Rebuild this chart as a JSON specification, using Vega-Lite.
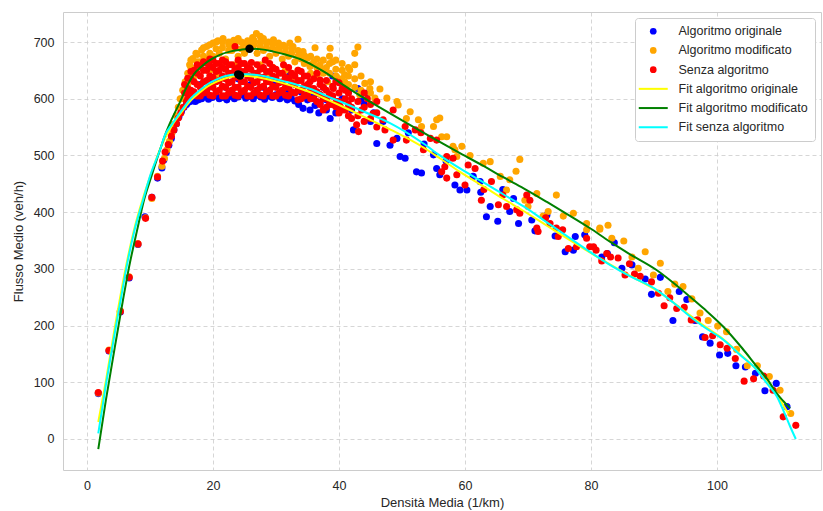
{
  "$schema": "https://vega.github.io/schema/vega-lite/v6.json",
  "width": 758,
  "height": 458,
  "autosize": "none",
  "padding": {"left": 63, "top": 12, "right": 2, "bottom": 41},
  "background": "white",
  "config": {
    "view": {"stroke": "#cccccc", "strokeWidth": 1},
    "axis": {
      "domain": false, "ticks": false, "grid": true,
      "gridColor": "#cccccc", "gridDash": [4, 3], "gridWidth": 0.8,
      "labelFont": "Liberation Sans", "labelFontSize": 12.5, "labelColor": "#262626",
      "titleFont": "Liberation Sans", "titleFontSize": 13, "titleFontWeight": "normal", "titleColor": "#262626"
    },
    "legend": {
      "orient": "top-right", "offset": 6, "padding": 7,
      "strokeColor": "#cccccc", "fillColor": "white", "cornerRadius": 3,
      "labelFont": "Liberation Sans", "labelFontSize": 12.5, "labelColor": "#262626",
      "symbolSize": 45, "symbolStrokeWidth": 0, "symbolOffset": 5, "labelOffset": 19, "rowPadding": 6.2
    }
  },
  "datasets": {
    "orig": [
      {"k":1.8,"q":80},{"k":3.5,"q":155},{"k":5.3,"q":224},{"k":6.7,"q":284},{"k":8.1,"q":343},{"k":9.2,"q":392},{"k":10.3,"q":426},{"k":11.2,"q":460},{"k":11.9,"q":478},{"k":12.2,"q":492},{"k":12.6,"q":505},{"k":13.0,"q":518},{"k":13.4,"q":530},
      {"k":13.8,"q":545},{"k":14.2,"q":556},{"k":14.6,"q":568},{"k":15.0,"q":578},{"k":15.4,"q":585},{"k":15.8,"q":590},{"k":16.2,"q":594},{"k":16.7,"q":596},{"k":17.2,"q":595},{"k":17.7,"q":598},{"k":18.2,"q":600},{"k":18.8,"q":603},{"k":19.3,"q":599},{"k":19.9,"q":602},{"k":20.5,"q":605},{"k":21.0,"q":600},{"k":21.6,"q":602},{"k":22.2,"q":598},{"k":22.8,"q":604},{"k":23.4,"q":600},{"k":24.0,"q":603},{"k":24.6,"q":607},{"k":25.2,"q":601},{"k":25.8,"q":604},{"k":26.4,"q":600},{"k":27.0,"q":606},{"k":27.6,"q":603},{"k":28.2,"q":599},{"k":28.8,"q":605},{"k":29.4,"q":602},{"k":30.0,"q":607},{"k":30.6,"q":600},{"k":31.2,"q":603},{"k":31.8,"q":598},{"k":32.4,"q":601},{"k":33.0,"q":596},{"k":33.6,"q":590},{"k":34.3,"q":583},{"k":35.4,"q":580},{"k":36.2,"q":588},{"k":37.0,"q":592},{"k":38.6,"q":565},{"k":39.5,"q":575},{"k":40.5,"q":600},{"k":41.5,"q":612},{"k":42.3,"q":545},
      {"k":36.8,"q":575},{"k":38,"q":580},{"k":40,"q":590},{"k":42,"q":580},{"k":43.5,"q":600},{"k":45,"q":560},
      {"k":16,"q":610},{"k":18,"q":625},{"k":20,"q":630},{"k":22,"q":620},{"k":24,"q":635},{"k":26,"q":625},{"k":28,"q":620},{"k":30,"q":628},{"k":32,"q":615},{"k":34,"q":612},{"k":36,"q":605},{"k":38,"q":598},{"k":19,"q":615},{"k":23,"q":612},{"k":27,"q":615},{"k":31,"q":610},{"k":35,"q":598},{"k":41,"q":625},{"k":43,"q":618},{"k":44.5,"q":610},{"k":39,"q":640},{"k":37.5,"q":620},{"k":32.2,"q":645},
      {"k":44,"q":590},{"k":45.5,"q":575},{"k":46.0,"q":521},{"k":47,"q":560},{"k":48.1,"q":518},{"k":49.2,"q":530},{"k":49.7,"q":498},{"k":50.5,"q":495},{"k":51,"q":540},{"k":52.3,"q":471},{"k":53.1,"q":469},{"k":53.5,"q":520},{"k":55.0,"q":501},{"k":55.5,"q":477},{"k":56,"q":466},{"k":57,"q":490},{"k":58.4,"q":448},{"k":59.2,"q":439},{"k":60.3,"q":439},{"k":61.3,"q":463},{"k":62.4,"q":454},{"k":62.5,"q":435},{"k":63.4,"q":392},{"k":64,"q":410},{"k":65.2,"q":384},{"k":66,"q":440},{"k":67.1,"q":401},{"k":67.7,"q":424},{"k":68.5,"q":380},{"k":70.6,"q":386},{"k":71.1,"q":367},{"k":73,"q":395},{"k":74.3,"q":358},{"k":75.9,"q":330},{"k":77.2,"q":333},{"k":77.5,"q":357},{"k":79,"q":360},{"k":81.7,"q":321},{"k":82.6,"q":327},{"k":83.7,"q":346},{"k":84.9,"q":301},{"k":86.5,"q":307},{"k":88.6,"q":282},{"k":89.6,"q":255},{"k":91,"q":285},{"k":93,"q":209},{"k":94,"q":260},{"k":95.2,"q":246},{"k":96.5,"q":209},{"k":97.7,"q":180},{"k":98.9,"q":169},{"k":100.4,"q":148},{"k":101.7,"q":151},{"k":103,"q":129},{"k":104.5,"q":127},{"k":106.1,"q":116},{"k":107.6,"q":85},{"k":109.4,"q":98},{"k":111.1,"q":57}
    ],
    "mod": [
      {"k":1.8,"q":81},{"k":3.5,"q":157},{"k":5.3,"q":226},{"k":6.7,"q":286},{"k":8.1,"q":344},{"k":9.3,"q":390},{"k":10.3,"q":424},{"k":11.2,"q":463},{"k":11.9,"q":481},{"k":12.3,"q":495},{"k":12.7,"q":510},{"k":13.1,"q":525},{"k":13.5,"q":540},
      {"k":13.8,"q":555},{"k":14.2,"q":570},{"k":14.5,"q":585},{"k":14.8,"q":600},{"k":15.2,"q":615},{"k":15.6,"q":630},{"k":16.0,"q":645},{"k":16.3,"q":660},{"k":16.8,"q":671},{"k":17.3,"q":680},{"k":18.2,"q":686},{"k":19.0,"q":692},{"k":20.0,"q":698},{"k":20.8,"q":702},{"k":21.6,"q":706},{"k":22.5,"q":700},{"k":23.3,"q":703},{"k":24.0,"q":706},{"k":24.8,"q":698},{"k":25.5,"q":702},{"k":26.3,"q":708},{"k":26.9,"q":715},{"k":27.5,"q":710},{"k":28.0,"q":706},{"k":28.8,"q":700},{"k":29.6,"q":704},{"k":30.4,"q":698},{"k":31.2,"q":694},{"k":32.2,"q":698},{"k":32.7,"q":692},{"k":33.5,"q":705},{"k":34.3,"q":683},{"k":35.4,"q":657},{"k":36.2,"q":690},{"k":37.5,"q":645},{"k":38.6,"q":689},{"k":39.6,"q":639},{"k":40.9,"q":642},{"k":41.7,"q":651},{"k":42.5,"q":680},{"k":43.0,"q":691},{"k":40.9,"q":630},
      {"k":15,"q":600},{"k":16,"q":625},{"k":17,"q":640},{"k":17.5,"q":655},{"k":18,"q":665},{"k":19,"q":670},{"k":20,"q":675},{"k":21,"q":680},{"k":22,"q":670},{"k":23,"q":685},{"k":24,"q":675},{"k":25,"q":680},{"k":26,"q":690},{"k":27,"q":680},{"k":28,"q":685},{"k":29,"q":675},{"k":30,"q":680},{"k":31,"q":670},{"k":32,"q":675},{"k":33,"q":665},{"k":34,"q":670},{"k":35,"q":672},{"k":36,"q":665},{"k":37,"q":660},{"k":38,"q":655},{"k":39,"q":665},{"k":19.5,"q":650},{"k":21.5,"q":655},{"k":23.5,"q":660},{"k":25.5,"q":655},{"k":27.5,"q":660},{"k":29.5,"q":655},{"k":31.5,"q":650},{"k":33.5,"q":650},{"k":35.5,"q":645},{"k":36.5,"q":640},{"k":38.2,"q":630},{"k":20.5,"q":640},{"k":24.5,"q":645},{"k":28.5,"q":640},{"k":32.5,"q":635},
      {"k":16.5,"q":655},{"k":16.5,"q":668},{"k":17.5,"q":665},{"k":17.5,"q":678},{"k":18.5,"q":675},{"k":18.5,"q":690},{"k":19.5,"q":680},{"k":19.5,"q":695},{"k":20.5,"q":688},{"k":20.5,"q":700},{"k":21.5,"q":690},{"k":21.5,"q":700},{"k":22.5,"q":685},{"k":22.5,"q":695},{"k":23.5,"q":690},{"k":23.5,"q":698},{"k":24.5,"q":688},{"k":24.5,"q":700},{"k":25.5,"q":690},{"k":25.5,"q":697},{"k":26.5,"q":695},{"k":26.5,"q":703},{"k":27.5,"q":692},{"k":27.5,"q":700},{"k":28.5,"q":690},{"k":28.5,"q":698},{"k":29.5,"q":688},{"k":29.5,"q":696},{"k":30.5,"q":685},{"k":30.5,"q":692},{"k":31.5,"q":682},{"k":31.5,"q":690},{"k":32.5,"q":680},{"k":32.5,"q":688},{"k":33.5,"q":675},{"k":33.5,"q":685},{"k":34.5,"q":662},{"k":34.5,"q":676},{"k":35.5,"q":660},{"k":35.5,"q":675},{"k":36.5,"q":655},{"k":36.5,"q":670},{"k":37.5,"q":650},{"k":37.5,"q":668},{"k":38.5,"q":645},{"k":38.5,"q":662},{"k":38.5,"q":675},{"k":39.5,"q":640},{"k":39.5,"q":652},{"k":39.5,"q":668},{"k":40.5,"q":635},{"k":40.5,"q":650},{"k":40.5,"q":662},{"k":41.5,"q":625},{"k":41.5,"q":640},{"k":41.5,"q":655},{"k":42.5,"q":620},{"k":42.5,"q":635},{"k":42.5,"q":660},{"k":43.5,"q":615},{"k":43.5,"q":640},{"k":45,"q":610},{"k":45,"q":630},
      {"k":43.3,"q":607},{"k":44.1,"q":627},{"k":44.9,"q":618},{"k":45.7,"q":601},{"k":46.5,"q":617},{"k":47.6,"q":601},{"k":49.2,"q":595},{"k":49.4,"q":589},{"k":50.7,"q":565},{"k":51.3,"q":577},{"k":52.6,"q":563},{"k":53.1,"q":551},{"k":55.0,"q":551},{"k":55.5,"q":563},{"k":56.0,"q":566},{"k":56.3,"q":533},{"k":57.1,"q":533},{"k":58.1,"q":516},{"k":58.4,"q":510},{"k":58.7,"q":498},{"k":59.5,"q":516},{"k":60.8,"q":500},{"k":62.9,"q":486},{"k":64.0,"q":489},{"k":65.6,"q":463},{"k":66.6,"q":439},{"k":67.1,"q":457},{"k":68.1,"q":472},{"k":68.7,"q":493},{"k":69.5,"q":421},{"k":70.0,"q":410},{"k":71.4,"q":433},{"k":72.4,"q":393},{"k":73.2,"q":401},{"k":74.5,"q":430},{"k":75.6,"q":393},{"k":77.2,"q":398},{"k":79.3,"q":380},{"k":79.3,"q":369},{"k":81.4,"q":372},{"k":82.7,"q":377},{"k":81.4,"q":370},{"k":83.3,"q":354},{"k":85.2,"q":349},{"k":86.5,"q":321},{"k":87.5,"q":301},{"k":88.6,"q":330},{"k":89.9,"q":289},{"k":91.0,"q":310},{"k":92.2,"q":260},{"k":93.3,"q":273},{"k":94.6,"q":269},{"k":96.0,"q":247},{"k":97.3,"q":222},{"k":98.6,"q":209},{"k":100.1,"q":199},{"k":101.5,"q":189},{"k":103.1,"q":158},{"k":104.8,"q":129},{"k":106.4,"q":129},{"k":108.3,"q":110},{"k":110.0,"q":86},{"k":111.7,"q":45}
    ],
    "senza": [
      {"k":1.8,"q":82},{"k":3.5,"q":156},{"k":5.3,"q":225},{"k":6.7,"q":285},{"k":8.1,"q":344},{"k":9.3,"q":389},{"k":10.3,"q":426},{"k":11.2,"q":462},{"k":12.0,"q":490},{"k":12.4,"q":506},{"k":12.9,"q":519},{"k":13.4,"q":534},
      {"k":13.8,"q":545},{"k":14.2,"q":556},{"k":14.5,"q":566},{"k":14.9,"q":575},{"k":15.3,"q":585},{"k":15.8,"q":595},{"k":16.3,"q":605},
      {"k":15.5,"q":610},{"k":15.5,"q":625},
      {"k":16.5,"q":615},{"k":16.5,"q":635},{"k":16.5,"q":648},
      {"k":17.5,"q":605},{"k":17.5,"q":625},{"k":17.5,"q":645},{"k":17.5,"q":660},
      {"k":18.5,"q":610},{"k":18.5,"q":630},{"k":18.5,"q":650},{"k":18.5,"q":665},
      {"k":19.5,"q":606},{"k":19.5,"q":622},{"k":19.5,"q":640},{"k":19.5,"q":658},{"k":19.5,"q":670},
      {"k":20.5,"q":612},{"k":20.5,"q":630},{"k":20.5,"q":648},{"k":20.5,"q":662},
      {"k":21.5,"q":605},{"k":21.5,"q":622},{"k":21.5,"q":640},{"k":21.5,"q":655},{"k":21.5,"q":668},
      {"k":22.5,"q":610},{"k":22.5,"q":628},{"k":22.5,"q":645},{"k":22.5,"q":660},
      {"k":23.5,"q":606},{"k":23.5,"q":620},{"k":23.5,"q":638},{"k":23.5,"q":652},{"k":23.5,"q":692},
      {"k":24.5,"q":612},{"k":24.5,"q":630},{"k":24.5,"q":648},{"k":24.5,"q":662},
      {"k":25.5,"q":605},{"k":25.5,"q":622},{"k":25.5,"q":640},{"k":25.5,"q":655},
      {"k":26.5,"q":610},{"k":26.5,"q":628},{"k":26.5,"q":645},{"k":26.1,"q":664},
      {"k":27.5,"q":606},{"k":27.5,"q":620},{"k":27.5,"q":638},{"k":27.5,"q":652},
      {"k":28.5,"q":612},{"k":28.5,"q":630},{"k":28.5,"q":648},{"k":28.3,"q":668},
      {"k":29.5,"q":605},{"k":29.5,"q":622},{"k":29.5,"q":640},{"k":29.5,"q":655},
      {"k":30.5,"q":610},{"k":30.5,"q":628},{"k":30.5,"q":645},
      {"k":31.5,"q":606},{"k":31.5,"q":620},{"k":31.5,"q":638},{"k":31.2,"q":660},
      {"k":32.5,"q":612},{"k":32.5,"q":628},{"k":32.5,"q":645},
      {"k":33.5,"q":598},{"k":33.5,"q":615},{"k":33.5,"q":632},{"k":33.5,"q":650},
      {"k":34.5,"q":605},{"k":34.5,"q":622},{"k":34.5,"q":640},
      {"k":35.5,"q":600},{"k":35.4,"q":630},{"k":35.5,"q":618},
      {"k":36.5,"q":595},{"k":36.5,"q":612},{"k":37.0,"q":633},{"k":36.5,"q":645},
      {"k":37.5,"q":580},{"k":37.5,"q":600},{"k":37.5,"q":620},
      {"k":38.5,"q":590},{"k":38.5,"q":608},{"k":39.1,"q":618},
      {"k":39.5,"q":586},{"k":39.6,"q":595},{"k":39.5,"q":630},
      {"k":40.5,"q":580},{"k":40.2,"q":586},{"k":40.5,"q":618},
      {"k":41.5,"q":570},{"k":41.5,"q":590},{"k":41.5,"q":610},
      {"k":16,"q":600},{"k":16,"q":618},{"k":16,"q":636},{"k":17,"q":612},{"k":17,"q":630},{"k":17,"q":650},{"k":18,"q":605},{"k":18,"q":620},{"k":18,"q":640},{"k":18,"q":657},{"k":19,"q":615},{"k":19,"q":632},{"k":19,"q":650},{"k":19,"q":662},{"k":20,"q":605},{"k":20,"q":620},{"k":20,"q":638},{"k":20,"q":655},{"k":20,"q":668},{"k":21,"q":615},{"k":21,"q":632},{"k":21,"q":650},{"k":21,"q":662},{"k":22,"q":605},{"k":22,"q":620},{"k":22,"q":635},{"k":22,"q":652},{"k":22,"q":665},{"k":23,"q":615},{"k":23,"q":630},{"k":23,"q":645},{"k":23,"q":660},{"k":24,"q":605},{"k":24,"q":620},{"k":24,"q":638},{"k":24,"q":655},{"k":24,"q":668},{"k":25,"q":615},{"k":25,"q":630},{"k":25,"q":648},{"k":25,"q":662},{"k":26,"q":605},{"k":26,"q":620},{"k":26,"q":636},{"k":26,"q":652},{"k":27,"q":615},{"k":27,"q":630},{"k":27,"q":645},{"k":27,"q":660},{"k":28,"q":605},{"k":28,"q":622},{"k":28,"q":638},{"k":28,"q":655},{"k":29,"q":615},{"k":29,"q":630},{"k":29,"q":648},{"k":29,"q":662},{"k":30,"q":605},{"k":30,"q":620},{"k":30,"q":636},{"k":30,"q":652},{"k":31,"q":615},{"k":31,"q":630},{"k":31,"q":645},{"k":32,"q":605},{"k":32,"q":620},{"k":32,"q":636},{"k":32,"q":655},{"k":33,"q":610},{"k":33,"q":625},{"k":33,"q":640},{"k":34,"q":600},{"k":34,"q":615},{"k":34,"q":632},{"k":34,"q":648},{"k":35,"q":608},{"k":35,"q":625},{"k":35,"q":640},{"k":36,"q":600},{"k":36,"q":618},{"k":36,"q":635},{"k":37,"q":590},{"k":37,"q":608},{"k":37,"q":625},{"k":38,"q":585},{"k":38,"q":600},{"k":38,"q":615},{"k":38,"q":632},{"k":39,"q":590},{"k":39,"q":605},{"k":39,"q":622},{"k":40,"q":575},{"k":40,"q":595},{"k":40,"q":610},{"k":40,"q":628},{"k":41,"q":580},{"k":41,"q":600},{"k":41,"q":615},{"k":42,"q":565},{"k":42,"q":585},{"k":42,"q":600},{"k":43,"q":570},{"k":43,"q":595},{"k":44,"q":560},{"k":44,"q":585},{"k":44,"q":610},{"k":45,"q":565},{"k":45,"q":590},{"k":46,"q":550},{"k":46,"q":575},
      {"k":42.8,"q":554},{"k":43.1,"q":542},{"k":43.6,"q":580},{"k":44.5,"q":600},{"k":45.4,"q":574},{"k":46,"q":595},{"k":47.0,"q":563},{"k":47.3,"q":545},{"k":48.6,"q":580},{"k":48.6,"q":527},{"k":50.5,"q":551},{"k":50.7,"q":527},{"k":52.1,"q":545},{"k":53,"q":540},{"k":53.4,"q":510},{"k":54.5,"q":530},{"k":55.5,"q":527},{"k":56.3,"q":471},{"k":56.8,"q":480},{"k":57.1,"q":460},{"k":57.1,"q":498},{"k":58.1,"q":495},{"k":58.7,"q":466},{"k":60.0,"q":448},{"k":60.5,"q":483},{"k":61.6,"q":477},{"k":62.6,"q":421},{"k":63,"q":440},{"k":64.2,"q":454},{"k":65.3,"q":413},{"k":66,"q":430},{"k":66.6,"q":410},{"k":68.2,"q":404},{"k":68.7,"q":398},{"k":69.8,"q":430},{"k":70.3,"q":421},{"k":71.4,"q":372},{"k":71.6,"q":366},{"k":72.8,"q":390},{"k":73.5,"q":380},{"k":74.5,"q":372},{"k":74.8,"q":357},{"k":75.5,"q":369},{"k":76.4,"q":336},{"k":77.7,"q":339},{"k":79.3,"q":354},{"k":79.8,"q":339},{"k":80.4,"q":339},{"k":80.8,"q":333},{"k":81.7,"q":314},{"k":82.5,"q":327},{"k":83.1,"q":321},{"k":84.3,"q":319},{"k":85.4,"q":289},{"k":86.1,"q":309},{"k":86.9,"q":291},{"k":87.8,"q":287},{"k":89.6,"q":277},{"k":90.7,"q":257},{"k":91.6,"q":235},{"k":92.5,"q":249},{"k":93.6,"q":230},{"k":94.8,"q":232},{"k":95.9,"q":210},{"k":96.9,"q":210},{"k":98.1,"q":179},{"k":99.3,"q":182},{"k":100.5,"q":166},{"k":101.6,"q":160},{"k":102.9,"q":142},{"k":104.3,"q":102},{"k":105.8,"q":106},{"k":107.4,"q":111},{"k":108.9,"q":86},{"k":110.5,"q":39},{"k":112.5,"q":24}
    ],
    "fitOrig": [
      {"k":1.8,"q":30},{"k":3,"q":102},{"k":4.4,"q":195},{"k":6.3,"q":310},{"k":7.5,"q":370},{"k":8.9,"q":425},{"k":10.2,"q":468},{"k":11.6,"q":511},{"k":13.5,"q":553},{"k":15.2,"q":579},{"k":16.5,"q":597},{"k":17.9,"q":611},{"k":19.2,"q":622},{"k":20.6,"q":630},{"k":22,"q":636},{"k":24,"q":640},{"k":25.5,"q":640},{"k":27.5,"q":637},{"k":29.5,"q":632},{"k":31.2,"q":627},{"k":33.8,"q":618},{"k":36,"q":609},{"k":38,"q":599},{"k":40.2,"q":588},{"k":44,"q":568},{"k":48.1,"q":546},{"k":53.4,"q":514},{"k":56,"q":495},{"k":59.2,"q":471},{"k":63,"q":445},{"k":66,"q":424},{"k":69.3,"q":402},{"k":73,"q":376},{"k":76,"q":355},{"k":79.8,"q":329},{"k":83,"q":308},{"k":86,"q":289},{"k":90.4,"q":262},{"k":95.7,"q":218},{"k":98,"q":199},{"k":101,"q":176},{"k":104,"q":146},{"k":106.3,"q":122},{"k":108,"q":99},{"k":109.5,"q":77},{"k":110.5,"q":60},{"k":111.3,"q":45}
    ],
    "fitMod": [
      {"k":1.8,"q":-18},{"k":3,"q":68},{"k":4.8,"q":186},{"k":5.8,"q":250},{"k":6.7,"q":304},{"k":8,"q":370},{"k":9.05,"q":421},{"k":10.2,"q":462},{"k":11.6,"q":510},{"k":12.4,"q":536},{"k":13.5,"q":565},{"k":14.8,"q":595},{"k":15.8,"q":620},{"k":16.9,"q":642},{"k":18.2,"q":657},{"k":19.5,"q":668},{"k":21,"q":677},{"k":22.7,"q":683},{"k":24.3,"q":686},{"k":25.9,"q":688},{"k":27.7,"q":687},{"k":29.6,"q":683},{"k":31.5,"q":678},{"k":33.8,"q":670},{"k":36,"q":658},{"k":38,"q":645},{"k":40.2,"q":628},{"k":44,"q":601},{"k":48.1,"q":574},{"k":52,"q":549},{"k":56,"q":524},{"k":59.2,"q":504},{"k":63,"q":481},{"k":66,"q":462},{"k":69.3,"q":442},{"k":73,"q":418},{"k":76,"q":398},{"k":79.8,"q":372},{"k":83,"q":348},{"k":86,"q":327},{"k":90.4,"q":298},{"k":93,"q":276},{"k":95.7,"q":251},{"k":98,"q":229},{"k":101,"q":198},{"k":104,"q":160},{"k":106.3,"q":128},{"k":108,"q":105},{"k":109.5,"q":80},{"k":110.5,"q":67},{"k":111.6,"q":54}
    ],
    "fitSenza": [
      {"k":1.8,"q":10},{"k":3,"q":95},{"k":4.4,"q":186},{"k":5.3,"q":242},{"k":6.3,"q":304},{"k":7.5,"q":366},{"k":8.9,"q":421},{"k":10,"q":463},{"k":11.6,"q":510},{"k":12.4,"q":536},{"k":13.5,"q":555},{"k":15.2,"q":582},{"k":16.5,"q":601},{"k":17.9,"q":615},{"k":19.2,"q":626},{"k":20.6,"q":634},{"k":22,"q":640},{"k":24,"q":643},{"k":25.5,"q":643},{"k":27.5,"q":641},{"k":29.5,"q":636},{"k":31.2,"q":631},{"k":33.8,"q":623},{"k":36,"q":615},{"k":38,"q":605},{"k":40.2,"q":595},{"k":44,"q":577},{"k":48.1,"q":557},{"k":53.4,"q":521},{"k":56,"q":500},{"k":59.2,"q":477},{"k":63,"q":452},{"k":66,"q":432},{"k":69.3,"q":410},{"k":73,"q":382},{"k":76,"q":359},{"k":79.8,"q":330},{"k":83,"q":307},{"k":86,"q":288},{"k":90.4,"q":263},{"k":93,"q":241},{"k":95.7,"q":216},{"k":98,"q":197},{"k":101,"q":175},{"k":104,"q":145},{"k":106.3,"q":122},{"k":108,"q":97},{"k":109.5,"q":75},{"k":110.5,"q":51},{"k":111.6,"q":22},{"k":112.5,"q":0}
    ],
    "peaks": [
      {"k":24.3,"q":641},{"k":25.8,"q":688},{"k":24,"q":643}
    ]
  },
  "layer": [
    {
      "data": {"name": "orig"},
      "mark": {"type": "circle", "size": 50, "opacity": 1},
      "encoding": {
        "x": {"field": "k", "type": "quantitative", "scale": {"domain": [-3.8, 116.5], "nice": false, "zero": false},
              "axis": {"values": [0, 20, 40, 60, 80, 100], "title": "Densità Media (1/km)", "labelPadding": 9, "titlePadding": 5}},
        "y": {"field": "q", "type": "quantitative", "scale": {"domain": [-54.7, 752.9], "nice": false, "zero": false},
              "axis": {"values": [0, 100, 200, 300, 400, 500, 600, 700], "title": "Flusso Medio (veh/h)", "labelPadding": 9, "titlePadding": 8}},
        "color": {
          "datum": "Algoritmo originale",
          "type": "nominal",
          "scale": {
            "domain": ["Algoritmo originale", "Algoritmo modificato", "Senza algoritmo", "Fit algoritmo originale", "Fit algoritmo modificato", "Fit senza algoritmo"],
            "range": ["#0000ff", "#ffa500", "#ff0000", "#ffff00", "#008000", "#00ffff"]
          },
          "legend": {
            "title": null,
            "encoding": {
              "symbols": {
                "shape": {"value": {"expr": "indexof(datum.value, 'Fit') === 0 ? 'M-4.32,-0.3H4.32V0.3H-4.32Z' : 'circle'"}},
                "fill": {"value": {"expr": "scale('color', datum.value)"}},
                "opacity": {"value": 1}
              }
            }
          }
        }
      }
    },
    {
      "data": {"name": "mod"},
      "mark": {"type": "circle", "size": 50, "opacity": 1},
      "encoding": {
        "x": {"field": "k", "type": "quantitative"},
        "y": {"field": "q", "type": "quantitative"},
        "color": {"datum": "Algoritmo modificato", "type": "nominal"}
      }
    },
    {
      "data": {"name": "senza"},
      "mark": {"type": "circle", "size": 50, "opacity": 1},
      "encoding": {
        "x": {"field": "k", "type": "quantitative"},
        "y": {"field": "q", "type": "quantitative"},
        "color": {"datum": "Senza algoritmo", "type": "nominal"}
      }
    },
    {
      "data": {"name": "fitOrig"},
      "mark": {"type": "line", "strokeWidth": 2, "interpolate": "monotone"},
      "encoding": {
        "x": {"field": "k", "type": "quantitative"},
        "y": {"field": "q", "type": "quantitative"},
        "color": {"datum": "Fit algoritmo originale", "type": "nominal"}
      }
    },
    {
      "data": {"name": "fitMod"},
      "mark": {"type": "line", "strokeWidth": 2, "interpolate": "monotone"},
      "encoding": {
        "x": {"field": "k", "type": "quantitative"},
        "y": {"field": "q", "type": "quantitative"},
        "color": {"datum": "Fit algoritmo modificato", "type": "nominal"}
      }
    },
    {
      "data": {"name": "fitSenza"},
      "mark": {"type": "line", "strokeWidth": 2, "interpolate": "monotone"},
      "encoding": {
        "x": {"field": "k", "type": "quantitative"},
        "y": {"field": "q", "type": "quantitative"},
        "color": {"datum": "Fit senza algoritmo", "type": "nominal"}
      }
    },
    {
      "data": {"name": "peaks"},
      "mark": {"type": "circle", "size": 70, "opacity": 1, "color": "black"},
      "encoding": {
        "x": {"field": "k", "type": "quantitative"},
        "y": {"field": "q", "type": "quantitative"}
      }
    }
  ]
}
